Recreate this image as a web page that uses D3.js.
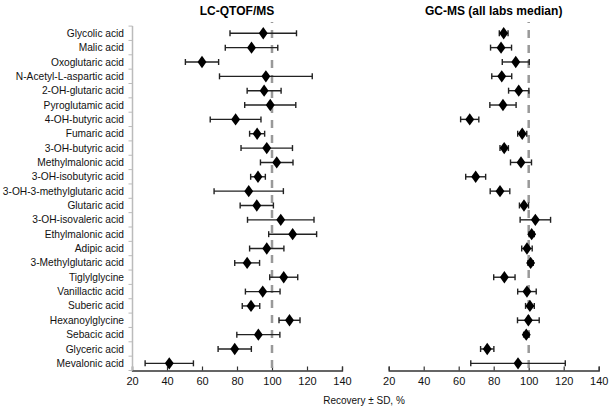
<!DOCTYPE html>
<html>
<head>
<meta charset="utf-8">
<script src="https://cdn.jsdelivr.net/npm/d3@7"></script>
<style>
  body { margin: 0; background: #fff; }
  text { font-family: "Liberation Sans", Arial, sans-serif; }
</style>
</head>
<body>
<svg id="chart" width="609" height="408"></svg>
<script>

var compounds = [
    "Glycolic acid", "Malic acid", "Oxoglutaric acid", "N-Acetyl-L-aspartic acid",
    "2-OH-glutaric acid", "Pyroglutamic acid", "4-OH-butyric acid", "Fumaric acid",
    "3-OH-butyric acid", "Methylmalonic acid", "3-OH-isobutyric acid",
    "3-OH-3-methylglutaric acid", "Glutaric acid", "3-OH-isovaleric acid",
    "Ethylmalonic acid", "Adipic acid", "3-Methylglutaric acid", "Tiglylglycine",
    "Vanillactic acid", "Suberic acid", "Hexanoylglycine", "Sebacic acid",
    "Glyceric acid", "Mevalonic acid"
];

// LC-QTOF/MS recovery and SD
var lcMean = [95, 88.3, 60, 96.5, 95.5, 99, 79.2, 91.5, 97, 102.7, 92, 86.7,
              91.3, 105, 111.8, 97, 85.8, 106.7, 94.7, 88, 110, 92.2, 78.7, 41.3];
var lcSD   = [19, 15, 9.5, 26.5, 9.7, 14.6, 14.5, 4.3, 14.7, 9.3, 4.2, 19.8,
              9.5, 19, 13.7, 9.8, 7.1, 8, 9.9, 5, 6, 12.3, 9.5, 13.8];

// GC-MS all labs median recovery and SD
var gcMean = [85.7, 84.2, 92.6, 84.6, 94.3, 85.3, 66.3, 96.3, 86, 95.6, 69.7, 83.6,
              97.3, 103.8, 101.7, 99, 101.1, 86.1, 99, 100.7, 99.8, 98.6, 76.3, 93.9];
var gcSD   = [2.5, 6, 7.7, 5.7, 5.8, 7.5, 5.2, 2.6, 2.4, 6, 5.7, 5.6,
              2.6, 8.7, 1.5, 3, 1.5, 6.1, 5.3, 2.5, 6.2, 1.5, 3.8, 27];

var xTicks = [20, 40, 60, 80, 100, 120, 140];
var titles = ["LC-QTOF/MS", "GC-MS (all labs median)"];

var svg = d3.select("#chart");

var y = d3.scaleBand()
    .domain(compounds)
    .range([26.1, 370.5]);

var xLeft = d3.scaleLinear().domain([20, 140]).range([132, 342]);
var xRight = d3.scaleLinear().domain([20, 140]).range([388.7, 598.7]);

var axisY = 370.5;

function drawPanel(x, means, sds, title) {
    var g = svg.append("g");

    // x axis, ticks pointing up
    var ax = g.append("g")
        .attr("transform", "translate(0," + axisY + ")")
        .call(d3.axisBottom(x).tickValues(xTicks).tickSize(-4).tickPadding(7));
    ax.select(".domain").attr("stroke", "#333").attr("stroke-width", 1.3);
    ax.selectAll(".tick line").attr("stroke", "#333").attr("stroke-width", 1.2);
    ax.selectAll(".tick text")
        .attr("font-size", "11px")
        .attr("fill", "#111")
        .style("font-family", "Liberation Sans, Arial, sans-serif");

    // reference line at 100 %
    g.append("line")
        .attr("x1", x(100)).attr("x2", x(100))
        .attr("y1", 22).attr("y2", axisY)
        .attr("stroke", "#999")
        .attr("stroke-width", 2.5)
        .attr("stroke-dasharray", "8,7")
        .attr("stroke-dashoffset", 7);

    var rows = g.selectAll(".row")
        .data(compounds)
        .enter().append("g")
        .attr("class", "row")
        .attr("transform", function(d) { return "translate(0," + (y(d) + y.bandwidth() / 2) + ")"; });

    rows.append("line")
        .attr("x1", function(d, i) { return x(means[i] - sds[i]); })
        .attr("x2", function(d, i) { return x(means[i] + sds[i]); })
        .attr("stroke", "#222")
        .attr("stroke-width", 1.4);

    rows.append("line")
        .attr("x1", function(d, i) { return x(means[i] - sds[i]); })
        .attr("x2", function(d, i) { return x(means[i] - sds[i]); })
        .attr("y1", -3).attr("y2", 3)
        .attr("stroke", "#222").attr("stroke-width", 1.4);

    rows.append("line")
        .attr("x1", function(d, i) { return x(means[i] + sds[i]); })
        .attr("x2", function(d, i) { return x(means[i] + sds[i]); })
        .attr("y1", -3).attr("y2", 3)
        .attr("stroke", "#222").attr("stroke-width", 1.4);

    rows.append("path")
        .attr("d", d3.symbol().type(d3.symbolDiamond).size(44))
        .attr("transform", function(d, i) { return "translate(" + x(means[i]) + ",0) scale(1.25,1)"; })
        .attr("fill", "#000");

    g.append("text")
        .attr("x", (x.range()[0] + x.range()[1]) / 2)
        .attr("y", 15)
        .attr("text-anchor", "middle")
        .attr("font-size", "12px")
        .attr("font-weight", "bold")
        .text(title);
}

drawPanel(xLeft, lcMean, lcSD, titles[0]);
drawPanel(xRight, gcMean, gcSD, titles[1]);

// category axis on the left panel
var yAxis = svg.append("g");
yAxis.append("line")
    .attr("x1", 132.5).attr("x2", 132.5)
    .attr("y1", y.range()[0]).attr("y2", axisY)
    .attr("stroke", "#bbb").attr("stroke-width", 1.5);

var bounds = compounds.map(function(d) { return y(d); }).concat([y.range()[1]]);
yAxis.selectAll(".ytick")
    .data(bounds)
    .enter().append("line")
    .attr("x1", 128.5).attr("x2", 132.5)
    .attr("y1", function(d) { return d; })
    .attr("y2", function(d) { return d; })
    .attr("stroke", "#bbb").attr("stroke-width", 1);

yAxis.selectAll(".ylabel")
    .data(compounds)
    .enter().append("text")
    .attr("x", 124)
    .attr("y", function(d) { return y(d) + y.bandwidth() / 2; })
    .attr("dy", "0.35em")
    .attr("text-anchor", "end")
    .attr("font-size", "10.2px")
    .attr("fill", "#111")
    .text(function(d) { return d; });

svg.append("text")
    .attr("x", 364)
    .attr("y", 404)
    .attr("text-anchor", "middle")
    .attr("font-size", "10px")
    .attr("fill", "#111")
    .text("Recovery ± SD, %");

</script>
</body>
</html>
